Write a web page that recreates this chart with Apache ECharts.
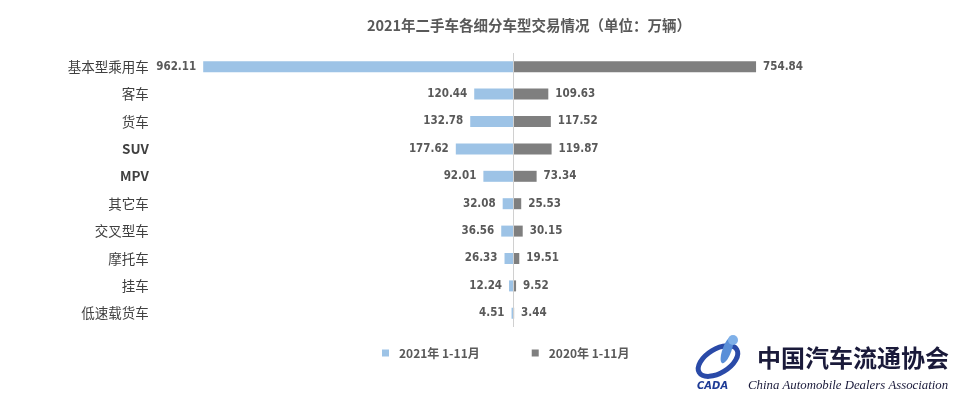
<!DOCTYPE html>
<html><head><meta charset="utf-8">
<script src="https://cdn.jsdelivr.net/npm/echarts@6/dist/echarts.min.js"></script>
<style>html,body{margin:0;padding:0;background:#fff}#c{width:960px;height:399px}</style>
</head><body><div id="c"></div>
<script>
const categories = ['基本型乘用车','客车','货车','SUV','MPV','其它车','交叉型车','摩托车','挂车','低速载货车'];
const values2021 = [962.11,120.44,132.78,177.62,92.01,32.08,36.56,26.33,12.24,4.51];
const values2020 = [754.84,109.63,117.52,119.87,73.34,25.53,30.15,19.51,9.52,3.44];
const seriesNames = ['2021年 1-11月','2020年 1-11月'];

const numFont = {fontFamily:"'DejaVu Sans Condensed'",fontWeight:'bold',fontSize:11.5,color:'#595959'};
const chart = echarts.init(document.getElementById('c'));
chart.setOption({
  animation:false,
  title:{text:'2021年二手车各细分车型交易情况（单位：万辆）',left:524,top:13,textAlign:'center',
    textStyle:{fontFamily:"'Noto Sans CJK SC',sans-serif",fontSize:14.5,fontWeight:'bold',color:'#595959'}},
  legend:{data:seriesNames,left:377,top:342,itemWidth:7,itemHeight:7,itemGap:52,icon:'rect',
    textStyle:{fontFamily:"'Noto Sans CJK SC',sans-serif",fontSize:12,fontWeight:'bold',color:'#595959',padding:[0,0,0,5]}},
  grid:{left:158.8,right:92.8,top:53,height:274,containLabel:false},
  xAxis:{type:'value',min:-1100,max:1100,show:false},
  yAxis:{type:'category',data:categories,inverse:true,
    axisLine:{show:false},axisTick:{show:false},
    axisLabel:{margin:10,fontFamily:"'Noto Sans CJK SC',sans-serif",fontSize:13.5,color:'#404040',
      formatter:v=>(v==='SUV'||v==='MPV')?'{b|'+v+'}':v,
      rich:{b:{fontFamily:"'Noto Sans CJK SC',sans-serif",fontSize:13.5,fontWeight:'bold',color:'#404040'}}}},
  series:[
    {name:seriesNames[0],type:'bar',stack:'a',barWidth:11,
      itemStyle:{color:'#9DC3E6'},
      data:values2021.map(v=>-v),
      label:{show:true,position:'left',distance:7,formatter:p=>(-p.value).toFixed(2),...numFont},
      markLine:{silent:true,symbol:'none',label:{show:false},lineStyle:{color:'#D0D0D0',type:'solid',width:1},data:[{xAxis:0}]}
    },
    {name:seriesNames[1],type:'bar',stack:'a',barWidth:11,
      itemStyle:{color:'#7F7F7F'},
      data:values2020,
      label:{show:true,position:'right',distance:7,formatter:p=>p.value.toFixed(2),...numFont}
    }
  ],
  graphic:[
    {type:'ellipse',x:718,y:361,rotation:0.55,shape:{cx:0,cy:0,rx:22,ry:12},style:{fill:'none',stroke:'#2a4aa8',lineWidth:5}},
    {type:'ellipse',x:727,y:350,rotation:-0.35,shape:{cx:0,cy:0,rx:4.5,ry:14},style:{fill:'#5a8fd8'}},
    {type:'circle',x:733,y:340,shape:{cx:0,cy:0,r:5},style:{fill:'#7fb0e8'}},
    {type:'text',left:697,top:381,style:{text:'CADA',font:"italic bold 10px 'DejaVu Sans'",fill:'#1f3c96'}},
    {type:'text',left:757,top:346,style:{text:'中国汽车流通协会',font:"bold 24px 'Noto Sans CJK SC'",fill:'#1a1a3a'}},
    {type:'text',left:748,top:379,style:{text:'China Automobile Dealers Association',font:"italic 12.8px 'Liberation Serif'",fill:'#1a1a3a'}}
  ]
});
</script></body></html>
